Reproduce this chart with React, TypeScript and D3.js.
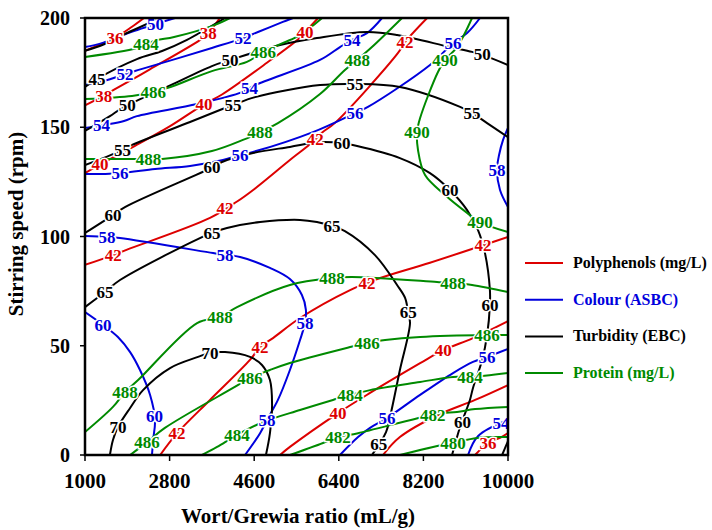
import * as d3 from 'd3';

type Pt = [number, number];
type Contour = { level: number; pts: Pt[]; at: Pt[] };

// axis ticks
const ratioTicks = [1000, 2800, 4600, 6400, 8200, 10000];
const speedTicks = [0, 50, 100, 150, 200];

// contour lines: [Wort/Grewia ratio, stirring speed]
const polyphenolLines: Contour[] = [
  { level: 36, pts: [[1000, 185], [1640, 191], [2000, 196], [2255, 200]], at: [[1640, 191]] },
  { level: 38, pts: [[1000, 160], [1400, 164.5], [1600, 167], [2380, 176.5], [3450, 190], [3620, 193], [3870, 200]], at: [[1400, 164.5], [3620, 193]] },
  { level: 40, pts: [[1000, 129], [1320, 133], [2064, 141.5], [2810, 150.5], [3530, 160.5], [3915, 165], [4870, 179.5], [5575, 191], [5680, 193.5], [5960, 200]], at: [[1320, 133], [3530, 160.5], [5680, 193.5]] },
  { level: 42, pts: [[1000, 87], [1600, 91.5], [1895, 94], [3660, 108.5], [4235, 116], [4620, 122], [5360, 135], [5830, 143], [6040, 147.5], [6320, 152], [7660, 184], [7810, 189], [8280, 200]], at: [[1600, 91.5], [3980, 113], [5900, 144.5], [7810, 189]] },
  { level: 42, pts: [[10000, 99.8], [9470, 96], [8340, 88], [7280, 81], [7000, 78.7], [6640, 75.5], [5575, 62.7], [5000, 53.5], [4725, 49.4], [4510, 43.5], [3660, 25.2], [2960, 10], [2600, 0]], at: [[9470, 96], [7000, 78.7], [4725, 49.4], [2960, 10]] },
  { level: 40, pts: [[10000, 61.3], [9255, 53.5], [8620, 48], [8130, 42], [7065, 28.4], [6385, 19.2], [5360, 3.7], [5150, 0]], at: [[8620, 48], [6385, 19.2]] },
  { level: 38, pts: [[10000, 32], [9300, 25.2], [8510, 18.3], [7700, 8.2], [7340, 0]], at: [] },
  { level: 36, pts: [[10000, 10], [9830, 7.8], [9575, 5.5], [9300, 0]], at: [[9575, 5.5]] },
];

const colourLines: Contour[] = [
  { level: 50, pts: [[1000, 186.7], [1360, 188.5], [2040, 194], [2915, 200]], at: [[2500, 197.3]] },
  { level: 52, pts: [[1000, 169.3], [1530, 172], [1850, 174.4], [2215, 176.7], [3700, 186.3], [4360, 190.8], [4680, 193.6], [5210, 198.2], [5425, 200]], at: [[1850, 174.4], [4360, 190.8]] },
  { level: 54, pts: [[1000, 149.7], [1830, 152.9], [2105, 155.1], [3385, 160.6], [4340, 166.1], [4620, 169.3], [6000, 180.8], [6425, 186.7], [6680, 190], [7000, 193.1], [7320, 200]], at: [[1350, 151.2], [4500, 167.9], [6680, 190]] },
  { level: 56, pts: [[1000, 128.6], [1745, 129], [2490, 130.9], [3235, 132.3], [3935, 135], [4300, 137.3], [4575, 138.7], [5850, 147.8], [6745, 156.5], [7020, 159.3], [8340, 178.5], [8830, 188.5], [9130, 193.1], [9405, 200]], at: [[1745, 129], [4300, 137.3], [6745, 156.5], [8830, 188.5]] },
  { level: 58, pts: [[10000, 149.7], [9895, 144.2], [9810, 137.3], [9765, 130.4], [9830, 121.3], [10000, 113.5]], at: [[9765, 130.4]] },
  { level: 58, pts: [[1000, 100.2], [1470, 99.8], [1745, 99.3], [3725, 92.4], [3980, 91.5], [4300, 90.6], [4935, 85.6], [5360, 80.5], [5615, 73.2], [5700, 66.4], [5680, 60.4], [5575, 52.6], [5360, 38.9], [5105, 25.2], [4870, 16], [4725, 10], [4405, 0]], at: [[1470, 99.8], [3980, 91.5], [5680, 60.4], [4870, 16]] },
  { level: 60, pts: [[1000, 65.4], [1385, 59.5], [1700, 54], [1960, 47.1], [2170, 38.9], [2385, 27.5], [2490, 16], [2450, 6.9], [2425, 0]], at: [[1385, 59.5], [2480, 18]] },
  { level: 56, pts: [[10000, 48.5], [9555, 44.9], [9255, 42.6], [8830, 37.5], [8130, 27.5], [7425, 16.9], [7065, 12.4], [6810, 8.2], [6425, 0]], at: [[9555, 44.9], [7425, 16.9]] },
  { level: 54, pts: [[10000, 16], [9365, 8.7], [9150, 0]], at: [[9850, 14.5]] },
];

const turbidityLines: Contour[] = [
  { level: 40, pts: [[1000, 185], [1405, 188], [1850, 192.7], [2600, 200]], at: [] },
  { level: 45, pts: [[1000, 168.4], [1255, 172.1], [2105, 181.2], [2640, 184.9], [3170, 190], [3980, 200]], at: [[1255, 172.1]] },
  { level: 50, pts: [[1000, 148.3], [1530, 155.1], [1790, 158.8], [2790, 168.9], [3700, 178], [4085, 180.8], [5150, 187.6], [5935, 190.8], [7000, 193.6], [7640, 192.2], [8765, 186.7], [9235, 184.5], [9470, 183], [10000, 178.5]], at: [[1900, 160.3], [4085, 180.8], [9450, 183.3]] },
  { level: 55, pts: [[1000, 132.7], [1745, 139.1], [2000, 141.9], [3235, 152.4], [3870, 157.9], [4150, 160.2], [4620, 163.8], [6000, 169.3], [6745, 169.8], [7700, 168.4], [8980, 159.3], [9235, 156.5], [9555, 151.9], [10000, 145.5]], at: [[1800, 139.7], [4150, 160.2], [6745, 169.8], [9235, 156.5]] },
  { level: 60, pts: [[1000, 101.6], [1595, 109.8], [1850, 113.5], [3725, 131.8], [3915, 134.1], [4575, 138.2], [5360, 141], [6000, 143.2], [6470, 142.7], [6790, 141.4], [7700, 135.9], [8340, 129], [8765, 121.3], [9130, 112.1], [9360, 103], [9510, 92.4], [9615, 75.5], [9615, 68.6], [9555, 54.9], [9450, 43.5], [9255, 30.7], [9190, 25.2], [8980, 12.8], [8810, 0]], at: [[1595, 109.8], [3700, 132], [6470, 142.7], [8765, 121.3], [9615, 68.6], [9030, 15]] },
  { level: 65, pts: [[1000, 67.7], [1425, 74.6], [1745, 80.1], [3445, 99.3], [3700, 101.6], [4020, 103.9], [4725, 106.6], [5575, 107.6], [5935, 106.6], [6255, 104.8], [6530, 102.5], [7170, 91.5], [7640, 77.8], [7810, 71.9], [7875, 65.4], [7915, 60.4], [7700, 38.9], [7490, 17.4], [7405, 10.5], [7105, 0]], at: [[1425, 74.6], [3700, 101.6], [6255, 104.8], [7875, 65.4], [7250, 5]] },
  { level: 70, pts: [[1530, 0], [1595, 6.9], [1700, 12.8], [1960, 21.5], [2235, 29.7], [2810, 39.8], [3405, 44.9], [3660, 46.7], [3980, 47.1], [4510, 44.9], [4765, 41.2], [4935, 34.3], [4980, 22.9], [4935, 10], [4850, 0]], at: [[3660, 46.7], [1700, 12.8]] },
  { level: 55, pts: [[10000, 6.4], [9875, 0]], at: [] },
];

const proteinLines: Contour[] = [
  { level: 484, pts: [[1000, 182.2], [2105, 186.3], [2470, 189.5], [2895, 191.3], [3700, 196.3], [4085, 200]], at: [[2300, 188.2]] },
  { level: 486, pts: [[1000, 162.9], [2000, 164.3], [2360, 165.7], [2765, 168], [3700, 175.7], [4445, 179.9], [4790, 184.4], [5215, 188.6], [5575, 192.2], [6045, 200]], at: [[2450, 166.2], [4790, 184.4]] },
  { level: 488, pts: [[1000, 135.5], [2210, 135.5], [2640, 135.5], [3700, 139.1], [4360, 144.2], [4725, 147.8], [5105, 151.9], [6000, 165.2], [6530, 176.2], [6790, 180.8], [7105, 186.7], [7745, 200]], at: [[2350, 135.5], [4725, 147.8], [6790, 180.8]] },
  { level: 490, pts: [[9235, 200], [8915, 186.7], [8660, 180.8], [8510, 175.3], [8130, 154.2], [8065, 147.8], [8085, 139.6], [8235, 128.1], [8660, 119], [9130, 110.8], [9405, 106.6], [10000, 102]], at: [[8660, 180.8], [8065, 147.8], [9405, 106.6]] },
  { level: 488, pts: [[1000, 10.5], [1595, 22], [1850, 28.8], [2130, 34.3], [3385, 60.4], [3870, 63.2], [4235, 67.7], [5360, 77.8], [6255, 81], [6680, 81.5], [8490, 79.2], [8830, 78.7], [9235, 77.8], [10000, 74.6]], at: [[1850, 28.8], [3870, 63.2], [6255, 81], [8830, 78.7]] },
  { level: 486, pts: [[10000, 54.9], [9555, 54.9], [8130, 54], [7385, 52.6], [7000, 51.3], [6640, 49.4], [5360, 42.1], [4935, 38.9], [4510, 35.2], [4150, 30.7], [2700, 12.4], [2320, 5.9], [1960, 0]], at: [[9555, 54.9], [7000, 51.3], [4510, 35.2], [2320, 5.9]] },
  { level: 484, pts: [[10000, 37.5], [9190, 35.7], [8830, 35.7], [8130, 33.4], [7065, 29.7], [6640, 27.5], [6275, 25.2], [5575, 20.6], [4790, 15.1], [4235, 9.2], [3810, 3.7], [3490, 0]], at: [[9190, 35.7], [6640, 27.5], [4235, 9.2]] },
  { level: 482, pts: [[10000, 22], [9300, 21], [8915, 19.7], [8490, 18.8], [6810, 10], [6385, 8.2], [6065, 5.5], [5360, 0]], at: [[8400, 18.3], [6385, 8.2]] },
  { level: 480, pts: [[10000, 8.2], [9340, 7.8], [8830, 5.5], [8405, 3.7], [7700, 0]], at: [[8830, 5.5]] },
];

const seriesNames = ['Polyphenols (mg/L)', 'Colour (ASBC)', 'Turbidity (EBC)', 'Protein (mg/L)'];
const seriesColors = ['#dd0000', '#0000dd', '#000000', '#008a00'];
const legendTextColors = ['#000000', '#0000dd', '#000000', '#008a00'];
const seriesLines = [polyphenolLines, colourLines, turbidityLines, proteinLines];

const W = 712;
const H = 530;
const m = { left: 85, right: 508, top: 18, bottom: 455 };

export default function App() {
  const x = d3.scaleLinear().domain([1000, 10000]).range([m.left, m.right]);
  const y = d3.scaleLinear().domain([0, 200]).range([m.bottom, m.top]);
  const line = d3.line<Pt>()
    .x(d => x(d[0]))
    .y(d => y(d[1]))
    .curve(d3.curveCatmullRom.alpha(0.5));

  return (
    <svg width={W} height={H} style={{ position: 'absolute', left: 0, top: 0, background: '#fff' }}
      fontFamily="'Liberation Serif', 'Times New Roman', serif" fontWeight="bold">
      <defs>
        <clipPath id="plotClip">
          <rect x={m.left} y={m.top} width={m.right - m.left} height={m.bottom - m.top} />
        </clipPath>
      </defs>

      {/* contour lines */}
      <g clipPath="url(#plotClip)" fill="none" strokeWidth={2}>
        {seriesLines.map((lines, si) =>
          lines.map((c, i) => (
            <path key={`${si}-${i}`} d={line(c.pts) ?? ''} stroke={seriesColors[si]} />
          ))
        )}
      </g>

      {/* contour labels */}
      <g clipPath="url(#plotClip)" fontSize={17} textAnchor="middle">
        {seriesLines.map((lines, si) =>
          lines.map((c, i) =>
            c.at.map((p, j) => (
              <text key={`${si}-${i}-${j}`} x={x(p[0])} y={y(p[1])} dy="0.35em"
                fill={seriesColors[si]} stroke="#fff" strokeWidth={3} paintOrder="stroke">
                {c.level}
              </text>
            ))
          )
        )}
      </g>

      {/* frame */}
      <rect x={m.left} y={m.top} width={m.right - m.left} height={m.bottom - m.top}
        fill="none" stroke="#000" strokeWidth={2.5} />

      {/* x axis */}
      {ratioTicks.map(t => (
        <g key={t}>
          <line x1={x(t)} x2={x(t)} y1={m.bottom} y2={m.bottom + 6} stroke="#000" strokeWidth={1.5} />
          <text x={x(t)} y={488} textAnchor="middle" fontSize={21}>{t}</text>
        </g>
      ))}
      <text x={298} y={523} textAnchor="middle" fontSize={21}>Wort/Grewia ratio (mL/g)</text>

      {/* y axis */}
      {speedTicks.map(t => (
        <g key={t}>
          <line x1={m.left - 5} x2={m.left} y1={y(t)} y2={y(t)} stroke="#000" strokeWidth={1.5} />
          <text x={70} y={y(t) + 7} textAnchor="end" fontSize={20}>{t}</text>
        </g>
      ))}
      <text transform="translate(23,224) rotate(-90)" textAnchor="middle" fontSize={21}>Stirring speed (rpm)</text>

      {/* legend */}
      {seriesNames.map((name, i) => {
        const ly = 263 + i * 36.7;
        return (
          <g key={name}>
            <line x1={525} x2={563} y1={ly} y2={ly} stroke={seriesColors[i]} strokeWidth={2} />
            <text x={573} y={ly + 5} fontSize={16} fill={legendTextColors[i]}>{name}</text>
          </g>
        );
      })}
    </svg>
  );
}
